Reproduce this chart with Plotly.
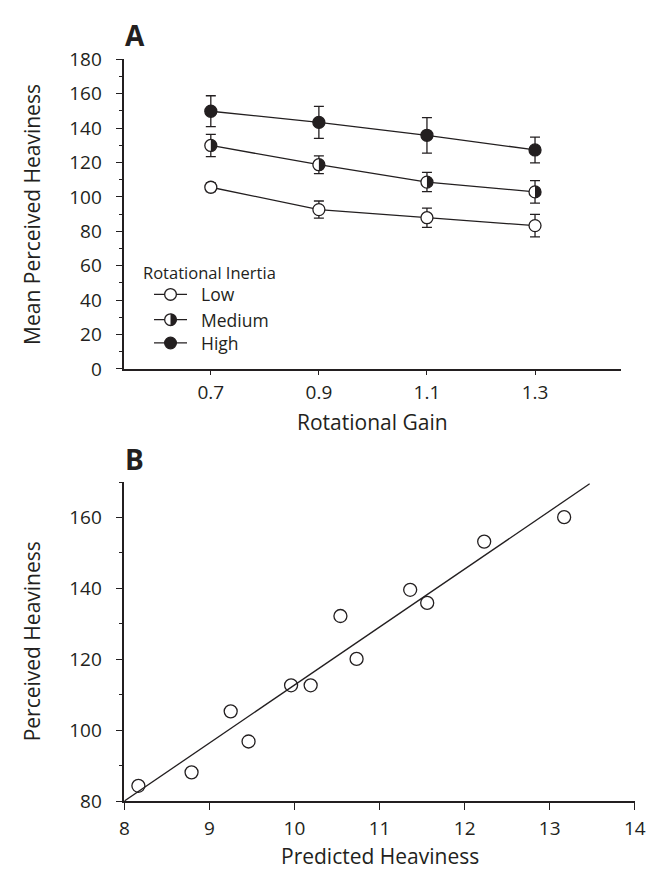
import plotly.graph_objects as go

# ---------------- data ----------------
gain = [0.7, 0.9, 1.1, 1.3]
gain_labels = ["0.7", "0.9", "1.1", "1.3"]
low = [105.6, 92.6, 87.9, 83.3]
low_err = [2.5, 5.0, 5.6, 6.5]
medium = [129.9, 118.7, 108.6, 102.9]
medium_err = [6.5, 5.2, 5.6, 6.5]
high = [149.8, 143.3, 135.8, 127.3]
high_err = [9.0, 9.3, 10.3, 7.5]

predicted = [8.165, 8.79, 9.25, 9.46, 9.96, 10.19, 10.54, 10.73, 11.36, 11.56, 12.23, 13.17]
perceived = [84.3, 88.1, 105.3, 96.8, 112.65, 112.65, 132.2, 120.1, 139.6, 135.9, 153.2, 160.1]
fit_x = [8.0, 13.47]
fit_y = [80.0, 169.5]

legend_names = ["Low", "Medium", "High"]

# ---------------- layout helpers ----------------
W, H = 664, 881
INK = "#231f20"
FONT = "Open Sans"


def px_x(p):
    return p / W


def px_y(p):
    return 1 - p / H


A_left, A_right, A_top, A_bottom = 122.3, 631.7, 47.7, 366.7
B_left, B_right, B_top, B_bottom = 122.3, 645.3, 483.3, 812.0

MS = 12  # marker diameter (px)
R = MS / 2.0
K = 0.5523


def right_half_path(r):
    return (f"M 0,{r} C {K*r},{r} {r},{K*r} {r},0 "
            f"C {r},{-K*r} {K*r},{-r} 0,{-r} Z")


fig = go.Figure()

err_style = dict(type="data", color=INK, thickness=1.3, width=5, visible=True)

series = [
    (low, low_err, "white"),
    (medium, medium_err, "white"),
    (high, high_err, INK),
]
for (vals, errs, fill), name in zip(series, legend_names):
    fig.add_trace(go.Scatter(
        x=gain, y=vals, name=name, mode="lines+markers",
        xaxis="x", yaxis="y",
        line=dict(color=INK, width=1.3),
        marker=dict(symbol="circle", size=MS, color=fill,
                    line=dict(color=INK, width=1.3)),
        error_y=dict(array=errs, **err_style),
        showlegend=False,
    ))

shapes = []
# half-filled markers for Medium series
for gx, my in zip(gain, medium):
    shapes.append(dict(
        type="path", xref="x", yref="y", xsizemode="pixel", ysizemode="pixel",
        xanchor=gx, yanchor=my, path=right_half_path(R),
        fillcolor=INK, line=dict(width=0), layer="above"))

# Panel B
fig.add_trace(go.Scatter(
    x=fit_x, y=fit_y, mode="lines", xaxis="x2", yaxis="y2",
    line=dict(color=INK, width=1.3), showlegend=False))
fig.add_trace(go.Scatter(
    x=predicted, y=perceived, mode="markers", xaxis="x2", yaxis="y2",
    marker=dict(symbol="circle-open", size=13, color=INK,
                line=dict(color=INK, width=1.3)),
    showlegend=False))

# ---------------- manual legend (panel A) ----------------
annotations = []
annotations.append(dict(
    text="Rotational Inertia", xref="paper", yref="paper",
    x=px_x(139), y=px_y(267), xanchor="left", yanchor="middle",
    showarrow=False, font=dict(family=FONT, size=16.5, color=INK)))
leg_y = [290, 316, 340]
fills = ["white", "half", INK]
for name, ly, f in zip(legend_names, leg_y, fills):
    shapes.append(dict(type="line", xref="paper", yref="paper",
                       x0=px_x(152.7), x1=px_x(186.5), y0=px_y(ly), y1=px_y(ly),
                       line=dict(color=INK, width=1.3)))
    cx = 169.6
    shapes.append(dict(type="circle", xref="paper", yref="paper",
                       x0=px_x(cx - R), x1=px_x(cx + R),
                       y0=px_y(ly + R), y1=px_y(ly - R),
                       fillcolor=(INK if f == INK else "white"),
                       line=dict(color=INK, width=1.3)))
    if f == "half":
        shapes.append(dict(type="path", xref="paper", yref="paper",
                           xsizemode="pixel", ysizemode="pixel",
                           xanchor=px_x(cx), yanchor=px_y(ly),
                           path=right_half_path(R), fillcolor=INK,
                           line=dict(width=0)))
    annotations.append(dict(
        text=name, xref="paper", yref="paper", x=px_x(199), y=px_y(ly),
        xanchor="left", yanchor="middle", showarrow=False,
        font=dict(family=FONT, size=17.5, color=INK)))

# panel letters and axis titles
annotations += [
    dict(text="<b>A</b>", xref="paper", yref="paper", x=px_x(133), y=px_y(23),
         xanchor="center", yanchor="middle", showarrow=False,
         font=dict(family=FONT, size=28, color=INK)),
    dict(text="<b>B</b>", xref="paper", yref="paper", x=px_x(132.4), y=px_y(460),
         xanchor="center", yanchor="middle", showarrow=False,
         font=dict(family=FONT, size=28, color=INK)),
    dict(text="Mean Perceived Heaviness", xref="paper", yref="paper",
         x=px_x(27.5), y=px_y((A_top + A_bottom) / 2), textangle=-90,
         xanchor="center", yanchor="middle", showarrow=False,
         font=dict(family=FONT, size=21, color=INK)),
    dict(text="Rotational Gain", xref="paper", yref="paper",
         x=px_x((A_left + A_right) / 2), y=px_y(421),
         xanchor="center", yanchor="middle", showarrow=False,
         font=dict(family=FONT, size=21, color=INK)),
    dict(text="Perceived Heaviness", xref="paper", yref="paper",
         x=px_x(27.5), y=px_y((B_top + B_bottom) / 2), textangle=-90,
         xanchor="center", yanchor="middle", showarrow=False,
         font=dict(family=FONT, size=21, color=INK)),
    dict(text="Predicted Heaviness", xref="paper", yref="paper",
         x=px_x((B_left + B_right) / 2), y=px_y(869),
         xanchor="center", yanchor="middle", showarrow=False,
         font=dict(family=FONT, size=21, color=INK)),
]

axis_common = dict(showgrid=False, zeroline=False, showline=True,
                   linecolor=INK, linewidth=1.5, ticks="outside",
                   tickcolor=INK, tickwidth=1.3,
                   tickfont=dict(family=FONT, size=19, color=INK))

fig.update_layout(
    width=W, height=H, autosize=False,
    margin=dict(l=0, r=0, t=0, b=0),
    paper_bgcolor="white", plot_bgcolor="white",
    showlegend=False,
    xaxis=dict(domain=[px_x(A_left), px_x(A_right)], range=[0.54, 1.46],
               tickvals=gain, ticktext=gain_labels, ticklen=4,
               ticklabelstandoff=2, anchor="y", **axis_common),
    yaxis=dict(domain=[px_y(A_bottom), px_y(A_top)], range=[0, 180],
               tickvals=list(range(0, 181, 20)), ticklen=7,
               ticklabelstandoff=10, anchor="x",
               minor=dict(tickvals=list(range(10, 180, 20)), ticklen=4,
                          ticks="outside", tickcolor=INK, tickwidth=1.3),
               **axis_common),
    xaxis2=dict(domain=[px_x(B_left), px_x(B_right)], range=[8, 14],
                tickvals=list(range(8, 15)), ticklen=7,
                ticklabelstandoff=2, anchor="y2", **axis_common),
    yaxis2=dict(domain=[px_y(B_bottom), px_y(B_top)], range=[80, 170],
                tickvals=list(range(80, 161, 20)), ticklen=7,
                ticklabelstandoff=10, anchor="x2",
                minor=dict(tickvals=list(range(90, 171, 20)), ticklen=4,
                           ticks="outside", tickcolor=INK, tickwidth=1.3),
                **axis_common),
    shapes=shapes,
    annotations=annotations,
)

fig.write_html("out.html",
               config={"displayModeBar": False},
               post_script="document.body.style.margin='0px';")
